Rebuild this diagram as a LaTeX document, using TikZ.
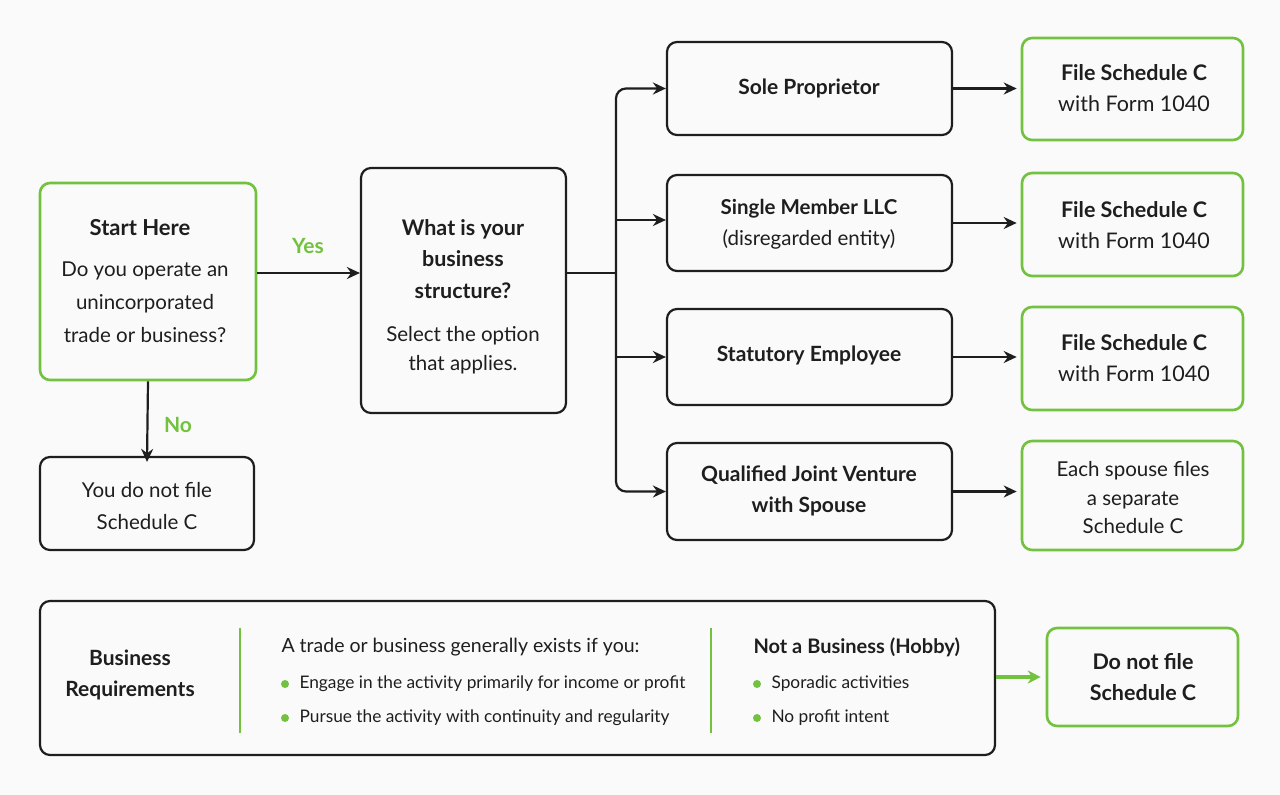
\documentclass[tikz,border=0pt]{standalone}
\usepackage{fontspec}
\setmainfont{Lato}
\usetikzlibrary{arrows.meta}
\definecolor{gr}{HTML}{72C23F}
\definecolor{dk}{HTML}{1E1E1E}
\tikzset{
 box/.style={draw=dk,line width=2.2pt,rounded corners=10pt,align=center,inner sep=0pt,text=dk},
 gbox/.style={box,draw=gr,line width=2.6pt},
 arr/.style={draw=dk,line width=2.2pt,-{Stealth[length=13pt,width=12pt]}},
 t/.style={font=\fontsize{20.5}{32}\selectfont,text=dk,align=center},
 b/.style={font=\fontsize{20.5}{32}\selectfont\bfseries,text=dk,align=center},
 s/.style={font=\fontsize{17.3}{22}\selectfont,text=dk,anchor=west},
 lbl/.style={font=\fontsize{21}{24}\selectfont\bfseries,text=gr},
}
\begin{document}
\begin{tikzpicture}[x=1pt,y=-1pt]
\useasboundingbox[fill=white] (0,0) rectangle (1280,795);
\fill[gray!4] (0,0) rectangle (1280,795);
\node[gbox,minimum width=216pt,minimum height=197pt] (start) at (148,281.5) {};
\node[box,minimum width=214pt,minimum height=93pt] (no) at (147,503.5) {};
\node[box,minimum width=205pt,minimum height=245pt] (what) at (463.5,290.5) {};
\node[box,minimum width=285pt,minimum height=93pt] (sole) at (809.5,88.5) {};
\node[box,minimum width=285pt,minimum height=96pt] (single) at (809.5,223) {};
\node[box,minimum width=285pt,minimum height=96pt] (stat) at (809.5,357) {};
\node[box,minimum width=285pt,minimum height=97pt] (qjv) at (809.5,491.5) {};
\node[gbox,minimum width=221pt,minimum height=102pt] (f1) at (1132.5,89) {};
\node[gbox,minimum width=221pt,minimum height=103pt] (f2) at (1132.5,224.5) {};
\node[gbox,minimum width=221pt,minimum height=103pt] (f3) at (1132.5,358.5) {};
\node[gbox,minimum width=221pt,minimum height=109pt] (f4) at (1132.5,495.5) {};
\node[box,minimum width=955pt,minimum height=154pt] (req) at (517.5,678) {};
\node[gbox,minimum width=191pt,minimum height=98pt] (dnf) at (1142.5,677) {};
% texts
\node[b,font=\fontsize{22}{32}\selectfont\bfseries] (t1) at (140,228) {Start Here};
\node[t,font=\fontsize{20.5}{33}\selectfont] (t2) at (145,302) {Do you operate an\\unincorporated\\trade or business?};
\node[t] (t3) at (147,506) {You do not file\\Schedule C};
\node[b,font=\fontsize{21.5}{31.5}\selectfont\bfseries] (t4) at (463,259) {What is your\\business\\structure?};
\node[t,font=\fontsize{20.5}{29}\selectfont] (t5) at (463,350) {Select the option\\that applies.};
\node[b,font=\fontsize{21}{32}\selectfont\bfseries] (t6) at (809,88) {Sole Proprietor};
\node[t,font=\fontsize{20.5}{31}\selectfont] (t7) at (809,224) {\textbf{Single Member LLC}\\(disregarded entity)};
\node[b,font=\fontsize{21}{32}\selectfont\bfseries] (t8) at (809,355) {Statutory Employee};
\node[b,font=\fontsize{21}{31}\selectfont\bfseries] (t9) at (809,491) {Qualified Joint Venture\\with Spouse};
\foreach \n/\y in {f1/88,f2/225,f3/358}{
 \node[t,font=\fontsize{21.5}{31}\selectfont] (x\n) at (1134,\y) {\textbf{File Schedule C}\\with Form 1040};}
\node[t,font=\fontsize{20.5}{28.5}\selectfont] (x4) at (1133,498) {Each spouse files\\a separate\\Schedule C};
\node[b,font=\fontsize{21.5}{31}\selectfont\bfseries] (x5) at (1143,677) {Do not file\\Schedule C};
\node[b,font=\fontsize{21}{31}\selectfont\bfseries] (br) at (130,675) {Business\\Requirements};
\node[t,anchor=west,font=\fontsize{19.5}{24}\selectfont] (a0) at (278,647) {A trade or business generally exists if you:};
\node[s] (a1) at (296,684) {Engage in the activity primarily for income or profit};
\node[s] (a2) at (296,718) {Pursue the activity with continuity and regularity};
\node[b,anchor=west,font=\fontsize{20}{24}\selectfont\bfseries] (h0) at (750,647) {Not a Business (Hobby)};
\node[s] (h1) at (768,684) {Sporadic activities};
\node[s] (h2) at (768,718) {No profit intent};
\foreach \x/\y in {285/684,285/718,757/684,757/718} \fill[gr] (\x,\y) circle (4pt);
\draw[gr,line width=2.4pt] (240,628) -- (240,733) (711,628) -- (711,733);
% connectors
\draw[arr] (start.east |- 0,273) -- (what.west |- 0,273);
\node[lbl] (yes) at (308,246) {Yes};
\draw[arr] (start.south) -- ([yshift=-6pt]no.north);
\node[lbl] (nol) at (178,425) {No};
\coordinate (tr) at (616,273);
\draw[line width=2.2pt,dk] (what.east |- tr) -- (tr);
\draw[arr,rounded corners=10pt] (tr) |- (sole.west);
\draw[arr,rounded corners=10pt] (tr) |- (qjv.west);
\draw[arr] (tr |- 0,220) -- (single.west |- 0,220);
\draw[arr] (tr |- stat.west) -- (stat.west);
\draw[arr] (sole.east) -- ([xshift=-4pt]f1.west |- sole.east);
\draw[arr] (single.east) -- ([xshift=-4pt]f2.west |- single.east);
\draw[arr] (stat.east) -- ([xshift=-4pt]f3.west |- stat.east);
\draw[arr] (qjv.east) -- ([xshift=-4pt]f4.west |- qjv.east);
\draw[gr,line width=3.5pt,-{Stealth[length=13pt,width=13pt]}] (req.east |- dnf.west) -- ([xshift=-5pt]dnf.west);
\end{tikzpicture}
\end{document}
